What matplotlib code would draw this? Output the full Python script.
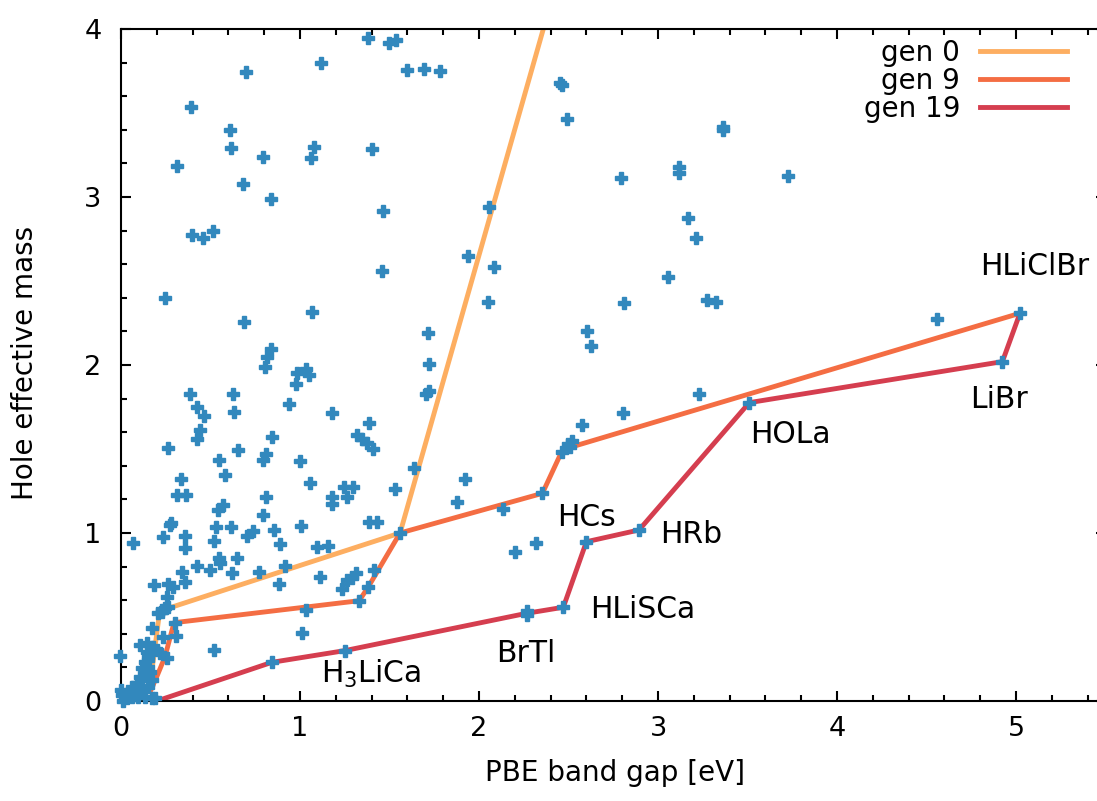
import matplotlib
matplotlib.use("Agg")
import matplotlib.pyplot as plt
from matplotlib.ticker import MultipleLocator

plt.rcParams['font.family'] = ['DejaVu Sans']
plt.rcParams['mathtext.fontset'] = 'dejavusans'

# Candidate materials: PBE band gap [eV] and hole effective mass
gap = [
    1.382, 1.499, 1.535, 1.117, 0.697, 1.600, 1.693, 1.782, 0.391, 0.609,
    0.613, 0.795, 1.080, 1.061, 1.400, 0.315, 0.683, 0.836, 1.462, 0.395,
    0.460, 0.516, 1.458, 1.939, 2.058, 2.084, 0.246, 2.052,
    1.065, 0.689, 1.717, 1.722, 1.704, 1.721, 0.836, 0.814, 0.806, 0.981,
    1.034, 1.050, 0.976, 0.385, 0.624, 0.423, 0.466, 0.633, 0.939, 1.177,
    0.441, 0.426, 0.842, 1.387, 1.317, 1.345, 1.373, 1.406, 0.264, 0.655,
    0.549, 0.791, 0.808, 1.000, 1.639, 0.583, 1.056, 1.922, 0.333, 0.311,
    0.363, 0.808, 0.568, 0.544, 1.181, 1.181, 1.246, 1.294, 1.261, 1.531,
    1.879, 0.791, 0.274, 0.280, 0.531, 0.615, 1.004, 1.387, 1.428, 0.855,
    0.702, 0.739, 0.233, 0.358, 0.069, 0.521, 0.888, 1.559, 1.093, 1.155,
    0.358,
    0.549, 0.553, 0.646, 0.423, 0.339, 0.358, 0.186, 0.261, 0.292, 0.497,
    0.618, 0.771, 0.916, 0.883,
    0.521, 1.009, 1.034, 0.842, 1.251, 1.233, 1.261, 1.112,
    0.227, 0.246, 0.264, 0.302, 0.307, 0.236, 0.171, 0.106, 0.143, 0.180,
    -0.006, 0.200, 0.218, 0.255, 0.153, 0.255, 0.227, 0.209, 0.143, 0.153,
    0.153, 0.143, 0.115, 0.088, 0.069, 0.097, 0.125, 0.153, 0.171, 0.134,
    0.097, 0.060, 0.022, 0.004, 0.013, 0.171, 0.190, 0.115, 0.134, 0.162,
    0.106, 0.060, 0.041, 0.000, 0.032, 0.078,
    2.136, 2.354, 2.462, 2.508, 2.518, 2.495, 2.574, 2.201, 2.317, 1.413,
    1.289, 1.313, 1.382, 1.331, 2.266, 2.266, 2.471, 2.600,
    2.453, 2.462, 2.490, 3.361, 3.361, 3.119, 3.119, 2.791, 3.728, 3.169,
    3.211, 3.058,
    2.810, 3.275, 3.324, 2.605, 2.624, 3.231, 2.803, 3.510, 2.894,
    4.560, 5.022, 4.924,
]
mass = [
    3.948, 3.915, 3.932, 3.796, 3.744, 3.758, 3.762, 3.750, 3.534, 3.399,
    3.290, 3.240, 3.300, 3.230, 3.286, 3.185, 3.077, 2.988, 2.918, 2.772,
    2.758, 2.798, 2.561, 2.651, 2.939, 2.585, 2.400, 2.373,
    2.313, 2.256, 2.188, 2.006, 1.827, 1.847, 2.095, 2.050, 1.986, 1.950,
    1.974, 1.938, 1.885, 1.825, 1.825, 1.752, 1.698, 1.722, 1.768, 1.712,
    1.613, 1.558, 1.573, 1.653, 1.581, 1.557, 1.534, 1.500, 1.504, 1.494,
    1.435, 1.435, 1.470, 1.430, 1.385, 1.345, 1.296, 1.321, 1.320, 1.226,
    1.226, 1.216, 1.167, 1.137, 1.216, 1.173, 1.276, 1.276, 1.212, 1.260,
    1.183, 1.107, 1.048, 1.060, 1.038, 1.034, 1.042, 1.064, 1.064, 1.018,
    0.982, 1.012, 0.974, 0.982, 0.942, 0.952, 0.935, 1.000, 0.918, 0.924,
    0.911,
    0.849, 0.823, 0.853, 0.805, 0.770, 0.710, 0.690, 0.696, 0.677, 0.780,
    0.764, 0.770, 0.804, 0.696,
    0.304, 0.407, 0.542, 0.230, 0.300, 0.665, 0.720, 0.740,
    0.542, 0.552, 0.561, 0.462, 0.387, 0.379, 0.432, 0.333, 0.343, 0.323,
    0.268, 0.304, 0.284, 0.254, 0.264, 0.621, 0.532, 0.526, 0.293, 0.244,
    0.204, 0.165, 0.125, 0.105, 0.055, 0.085, 0.065, 0.085, 0.125, 0.026,
    0.026, 0.026, 0.026, 0.036, 0.000, 0.016, 0.016, 0.195, 0.234, 0.174,
    0.145, 0.085, 0.046, 0.065, 0.016, 0.036,
    1.143, 1.236, 1.484, 1.514, 1.549, 1.530, 1.643, 0.885, 0.939, 0.780,
    0.730, 0.760, 0.680, 0.597, 0.535, 0.510, 0.558, 0.948,
    3.676, 3.667, 3.464, 3.415, 3.399, 3.180, 3.145, 3.111, 3.125, 2.873,
    2.758, 2.522,
    2.367, 2.389, 2.373, 2.202, 2.115, 1.827, 1.716, 1.776, 1.018,
    2.272, 2.308, 2.020,
]

# Pareto fronts of three generations
gen0_gap = [0.175, 0.190, 0.212, 0.264, 1.559, 2.450]
gen0_mass = [0.200, 0.323, 0.500, 0.552, 1.000, 4.340]
gen9_gap = [0.165, 0.200, 0.246, 0.296, 1.331, 1.382, 1.559, 2.354, 2.462, 2.510, 5.022]
gen9_mass = [0.060, 0.145, 0.264, 0.466, 0.597, 0.680, 1.000, 1.236, 1.484, 1.510, 2.308]
gen19_gap = [0.200, 0.842, 1.251, 2.266, 2.471, 2.600, 2.894, 3.510, 4.924, 5.022]
gen19_mass = [0.000, 0.230, 0.300, 0.522, 0.558, 0.948, 1.018, 1.776, 2.020, 2.308]

# Compound names along the final front
names = ['HLiClBr', 'LiBr', 'HOLa', 'HRb', 'HCs', 'HLiSCa', 'BrTl', r'H$_3$LiCa']
name_x = [5.106, 4.905, 3.740, 3.184, 2.603, 2.913, 2.261, 1.400]
name_y = [2.536, 1.742, 1.534, 0.939, 1.042, 0.492, 0.234, 0.105]

fig = plt.figure(figsize=(10.97, 8.01), dpi=100)
ax = fig.add_axes([121 / 1097, 100 / 801, 984.5 / 1097, 672 / 801])

ax.plot(gen0_gap, gen0_mass, color='#fdae61', lw=3.5, label='gen 0', zorder=2)
ax.plot(gen9_gap, gen9_mass, color='#f46d43', lw=3.5, label='gen 9', zorder=2)
ax.plot(gen19_gap, gen19_mass, color='#d53e4f', lw=3.5, label='gen 19', zorder=2)
ax.plot(gap, mass, linestyle='none', marker='P', markersize=8.8,
        markeredgewidth=1.0, color='#3288bd', zorder=3, clip_on=False)

for n, x, y in zip(names, name_x, name_y):
    ax.text(x, y, n, fontsize=21.5, ha='center', va='baseline', zorder=4)

ax.set_xlim(0, 5.5)
ax.set_ylim(0, 4)
ax.xaxis.set_major_locator(MultipleLocator(1))
ax.xaxis.set_minor_locator(MultipleLocator(0.2))
ax.yaxis.set_major_locator(MultipleLocator(1))
ax.yaxis.set_minor_locator(MultipleLocator(0.2))
ax.tick_params(which='both', direction='in', top=True, right=True, width=1.5)
ax.tick_params(which='major', length=7.5)
ax.tick_params(which='minor', length=4)
ax.tick_params(axis='x', which='major', labelsize=19.5, pad=11)
ax.tick_params(axis='y', which='major', labelsize=19.5, pad=14)
for s in ax.spines.values():
    s.set_linewidth(1.5)

ax.set_xlabel('PBE band gap [eV]', fontsize=20)
ax.set_ylabel('Hole effective mass', fontsize=20)
ax.xaxis.set_label_coords(0.502, -0.087)
ax.yaxis.set_label_coords(-0.083, 0.503)

ax.legend(loc='upper right', bbox_to_anchor=(1067 / 1097, 1 - 39 / 801),
          bbox_transform=fig.transFigure, frameon=False, markerfirst=False,
          fontsize=20, handlelength=3.13, handletextpad=0.72,
          labelspacing=0.0, borderpad=0, borderaxespad=0)

fig.savefig('out.png', dpi=100)
